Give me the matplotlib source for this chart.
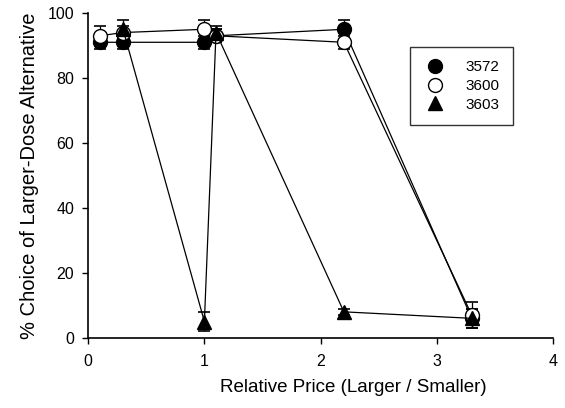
import numpy as np
import matplotlib.pyplot as plt

# 상대 가격 (Larger / Smaller)
x_3572 = [0.1, 0.3, 1.0, 1.1, 2.2, 3.3]
y_3572 = [91, 91, 91, 93, 95, 6]
e_3572 = [2, 2, 2, 2, 3, 3]

x_3600 = [0.1, 0.3, 1.0, 1.1, 2.2, 3.3]
y_3600 = [93, 94, 95, 93, 91, 7]
e_3600 = [3, 2, 3, 2, 2, 4]

x_3603 = [0.3, 1.0, 1.1, 2.2, 3.3]
y_3603 = [95, 5, 94, 8, 6]
e_3603 = [3, 3, 2, 1, 3]

xticks = [0, 1, 2, 3, 4]
yticks = [0, 20, 40, 60, 80, 100]

plt.rcParams['font.family'] = ['Liberation Sans', 'DejaVu Sans']

fig = plt.figure(figsize=(5.65, 4.08), dpi=100)
ax = fig.add_axes([0.156, 0.172, 0.823, 0.796])

common = dict(color='black', lw=0.9, ms=10, capsize=4, elinewidth=0.9, capthick=1.2)
ax.errorbar(x_3572, y_3572, yerr=e_3572, fmt='-o', mfc='black', mec='black', label='3572', **common)
ax.errorbar(x_3600, y_3600, yerr=e_3600, fmt='-o', mfc='white', mec='black', label='3600', **common)
ax.errorbar(x_3603, y_3603, yerr=e_3603, fmt='-^', mfc='black', mec='black', label='3603', **common)

ax.set_xlim(0, 4)
ax.set_ylim(0, 100)
ax.set_xticks(xticks)
ax.set_yticks(yticks)
ax.tick_params(labelsize=11.5, length=4, width=1)
ax.tick_params(axis='x', pad=8)
ax.tick_params(axis='y', pad=6)
ax.spines['top'].set_visible(False)
ax.spines['right'].set_visible(False)
ax.spines['left'].set_linewidth(1.2)
ax.spines['bottom'].set_linewidth(1.2)

# x축 라벨은 원본처럼 약간 오른쪽으로 치우침
ax.set_xlabel('Relative Price (Larger / Smaller)', fontsize=13.5, labelpad=7, x=0.57)
ax.set_ylabel('% Choice of Larger-Dose Alternative', fontsize=14.5, labelpad=6)

handles, labels = ax.get_legend_handles_labels()
handles = [h[0] for h in handles]
leg = ax.legend(handles, labels, loc='upper right', bbox_to_anchor=(0.93, 0.92),
                fontsize=11, frameon=True, fancybox=False, edgecolor='black',
                handlelength=1.5, handletextpad=1.2, borderpad=0.9, labelspacing=0.3)
leg.get_frame().set_linewidth(1.0)
for h in leg.legend_handles:
    h.set_linestyle('none')

fig.savefig('out.png', dpi=100)
